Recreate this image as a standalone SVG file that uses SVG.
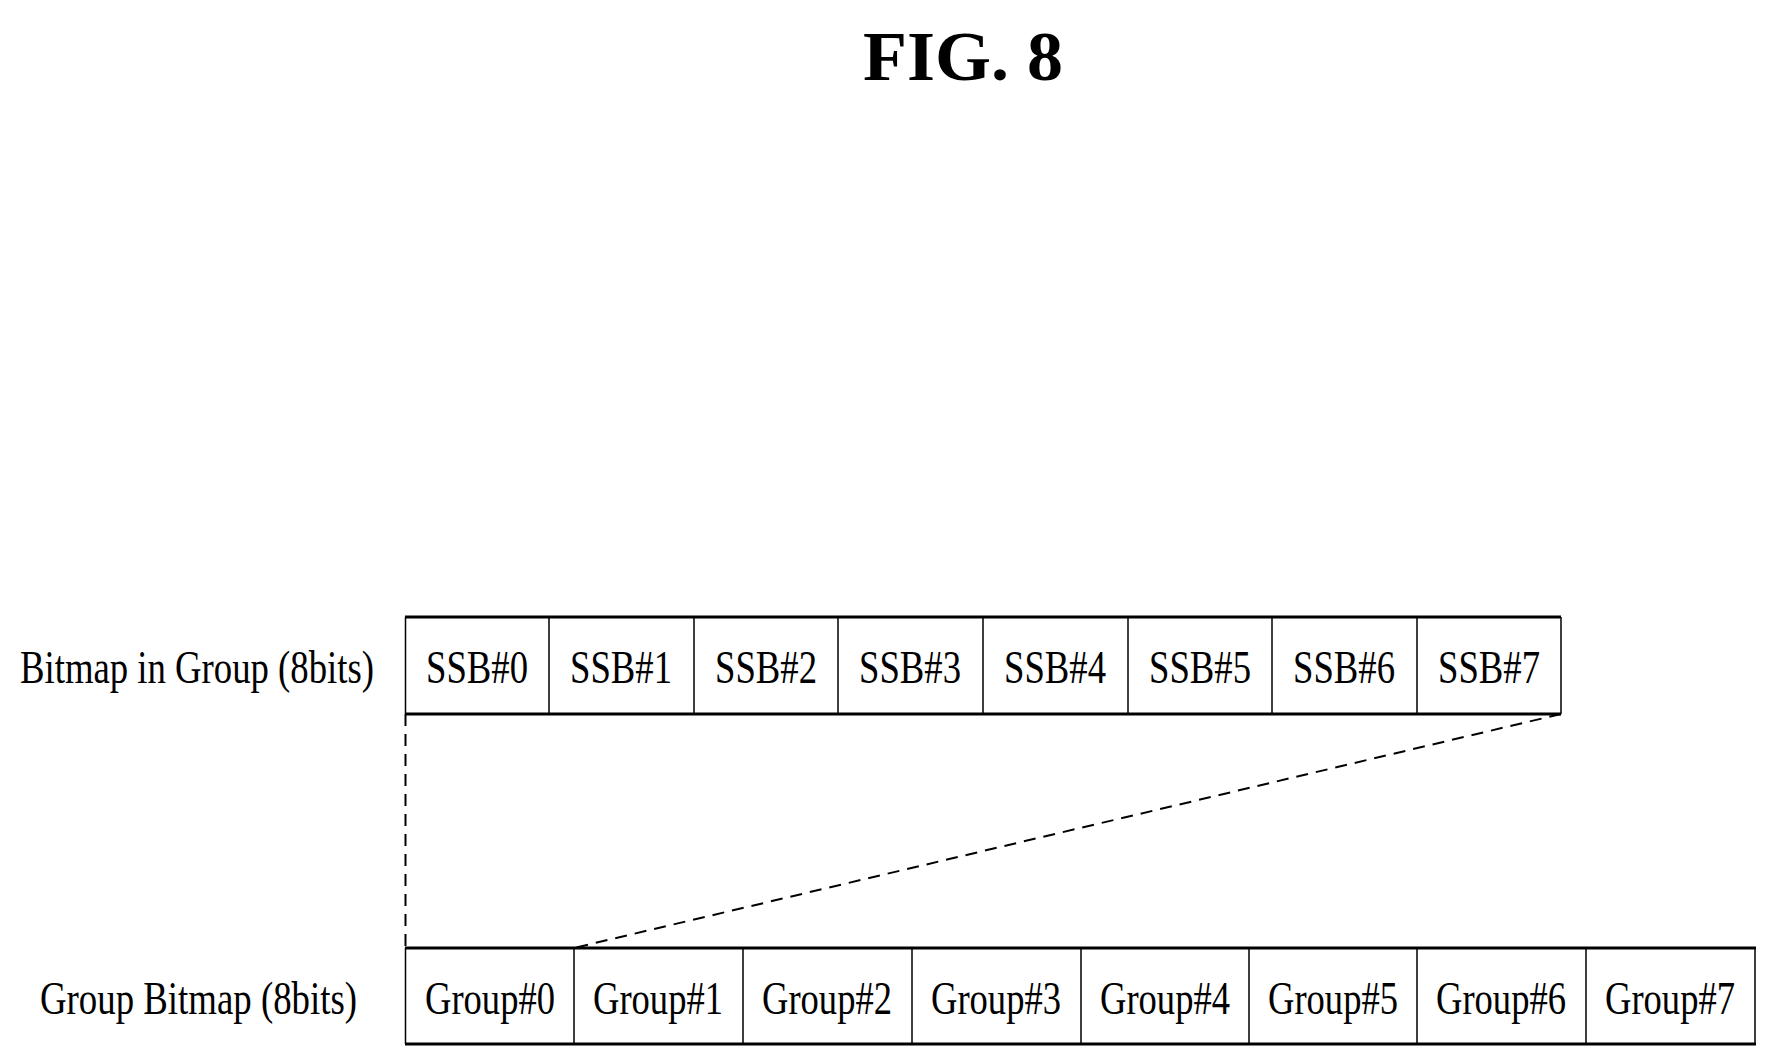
<svg xmlns="http://www.w3.org/2000/svg" width="1767" height="1062" viewBox="0 0 1767 1062">
<style>
text{font-family:"Liberation Serif",serif;fill:#000}
.c{font-size:46px;text-anchor:middle}
.v{stroke:#000;stroke-width:1.5}
.h{stroke:#000;stroke-width:3}
.d{stroke:#000;stroke-width:2;stroke-dasharray:12,8;fill:none}
</style>
<rect width="1767" height="1062" fill="#fff"/>
<text x="963" y="80" font-size="70" font-weight="bold" text-anchor="middle" textLength="200" lengthAdjust="spacingAndGlyphs">FIG. 8</text>
<g id="top">
<text x="20" y="683" font-size="46" textLength="354" lengthAdjust="spacingAndGlyphs">Bitmap in Group (8bits)</text>
<line class="h" x1="405" y1="617" x2="1561" y2="617"/><line class="h" x1="405" y1="714" x2="1561" y2="714"/>
<g class="v"><line x1="405.5" y1="617" x2="405.5" y2="714"/><line x1="549" y1="617" x2="549" y2="714"/><line x1="694" y1="617" x2="694" y2="714"/><line x1="838" y1="617" x2="838" y2="714"/><line x1="983" y1="617" x2="983" y2="714"/><line x1="1128" y1="617" x2="1128" y2="714"/><line x1="1272" y1="617" x2="1272" y2="714"/><line x1="1417" y1="617" x2="1417" y2="714"/><line x1="1561" y1="617" x2="1561" y2="714"/></g>
<g class="c">
<text x="477" y="683" textLength="102" lengthAdjust="spacingAndGlyphs">SSB#0</text>
<text x="621" y="683" textLength="102" lengthAdjust="spacingAndGlyphs">SSB#1</text>
<text x="766" y="683" textLength="102" lengthAdjust="spacingAndGlyphs">SSB#2</text>
<text x="910" y="683" textLength="102" lengthAdjust="spacingAndGlyphs">SSB#3</text>
<text x="1055" y="683" textLength="102" lengthAdjust="spacingAndGlyphs">SSB#4</text>
<text x="1200" y="683" textLength="102" lengthAdjust="spacingAndGlyphs">SSB#5</text>
<text x="1344" y="683" textLength="102" lengthAdjust="spacingAndGlyphs">SSB#6</text>
<text x="1489" y="683" textLength="102" lengthAdjust="spacingAndGlyphs">SSB#7</text>
</g>
</g>
<g id="connectors">
<line class="d" x1="405.5" y1="714" x2="405.5" y2="948"/>
<line class="d" x1="1561" y1="714" x2="574" y2="948"/>
</g>
<g id="bottom">
<text x="40" y="1014" font-size="46" textLength="317" lengthAdjust="spacingAndGlyphs">Group Bitmap (8bits)</text>
<line class="h" x1="405" y1="948" x2="1756" y2="948"/><line class="h" x1="405" y1="1044" x2="1756" y2="1044"/>
<g class="v"><line x1="405.5" y1="948" x2="405.5" y2="1044"/><line x1="574" y1="948" x2="574" y2="1044"/><line x1="743" y1="948" x2="743" y2="1044"/><line x1="912" y1="948" x2="912" y2="1044"/><line x1="1081" y1="948" x2="1081" y2="1044"/><line x1="1249" y1="948" x2="1249" y2="1044"/><line x1="1417" y1="948" x2="1417" y2="1044"/><line x1="1586" y1="948" x2="1586" y2="1044"/><line x1="1755" y1="948" x2="1755" y2="1044"/></g>
<g class="c">
<text x="490" y="1014" textLength="130" lengthAdjust="spacingAndGlyphs">Group#0</text>
<text x="658" y="1014" textLength="130" lengthAdjust="spacingAndGlyphs">Group#1</text>
<text x="827" y="1014" textLength="130" lengthAdjust="spacingAndGlyphs">Group#2</text>
<text x="996" y="1014" textLength="130" lengthAdjust="spacingAndGlyphs">Group#3</text>
<text x="1165" y="1014" textLength="130" lengthAdjust="spacingAndGlyphs">Group#4</text>
<text x="1333" y="1014" textLength="130" lengthAdjust="spacingAndGlyphs">Group#5</text>
<text x="1501" y="1014" textLength="130" lengthAdjust="spacingAndGlyphs">Group#6</text>
<text x="1670" y="1014" textLength="130" lengthAdjust="spacingAndGlyphs">Group#7</text>
</g>
</g>
</svg>
